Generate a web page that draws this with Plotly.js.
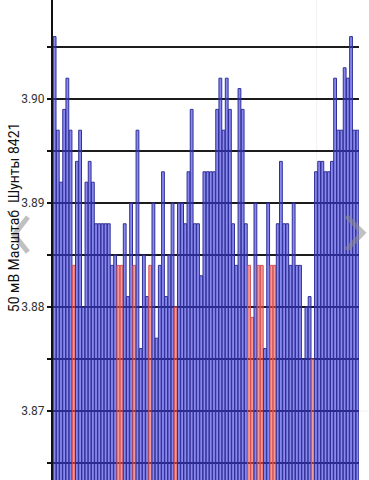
<!DOCTYPE html>
<html>
<head>
<meta charset="utf-8">
<script src="https://cdn.plot.ly/plotly-3.0.1.min.js"></script>
<style>
  html, body { margin: 0; padding: 0; width: 369px; height: 480px; overflow: hidden; background: #fff; }
  #chart { position: absolute; left: 0; top: -20px; width: 369px; height: 520px; }
</style>
</head>
<body>
<div id="chart"></div>
<script>
// Shunt voltage readings, 50 mV scale, shunts 8421
const readings = [
  3.906, 3.897, 3.892, 3.899, 3.902, 3.897, 3.884, 3.894, 3.897, 3.880,
  3.892, 3.894, 3.892, 3.888, 3.888, 3.888, 3.888, 3.888, 3.884, 3.885,
  3.884, 3.884, 3.888, 3.881, 3.890, 3.884, 3.897, 3.876, 3.885, 3.881,
  3.884, 3.890, 3.877, 3.884, 3.893, 3.881, 3.885, 3.890, 3.880, 3.890,
  3.890, 3.888, 3.893, 3.899, 3.888, 3.888, 3.883, 3.893, 3.893, 3.893,
  3.893, 3.899, 3.902, 3.897, 3.902, 3.899, 3.888, 3.884, 3.901, 3.899,
  3.888, 3.884, 3.879, 3.890, 3.884, 3.884, 3.876, 3.890, 3.884, 3.884,
  3.888, 3.894, 3.888, 3.888, 3.884, 3.890, 3.884, 3.884, 3.875, 3.880,
  3.881, 3.875, 3.893, 3.894, 3.894, 3.893, 3.893, 3.894, 3.902, 3.897,
  3.897, 3.903, 3.902, 3.906, 3.897, 3.897
];
// bar numbers (1-based) drawn in red
const flaggedBars = [7, 21, 22, 26, 31, 39, 62, 63, 65, 66, 69, 70, 82];
// y-axis ticks
const tickValues = [3.865, 3.87, 3.875, 3.88, 3.885, 3.89, 3.895, 3.90, 3.905, 3.91];
const tickLabels = ['', '3.87', '', '3.88', '', '3.89', '', '3.90', '', '3.91'];
const axisTitle = '50 мВ Масштаб  Шунты 8421';

const barNo = readings.map((_, i) => i + 1);
const isFlagged = barNo.map(n => flaggedBars.includes(n));
const fillColors = isFlagged.map(f => f ? 'rgba(232,70,70,0.55)' : 'rgba(50,50,228,0.58)');
const lineColors = isFlagged.map(f => f ? 'rgba(214,80,80,1)' : 'rgba(48,48,150,1)');

const trace = {
  type: 'bar',
  x: barNo,
  y: readings,
  marker: { color: fillColors, line: { color: lineColors, width: 1 } },
  hoverinfo: 'x+y'
};

const chevron = 'rgba(140,140,140,0.55)';
const layout = {
  width: 369, height: 520,
  margin: { l: 53, r: 10, t: 10, b: 0, pad: 0 },
  paper_bgcolor: '#ffffff',
  plot_bgcolor: '#ffffff',
  showlegend: false,
  bargap: 0.12,
  font: { family: 'Roboto, Arial, sans-serif', size: 12, color: '#333' },
  xaxis: { visible: false, range: [0.5, readings.length + 0.5], fixedrange: true },
  yaxis: {
    range: [3.86144, 3.91048],
    tickmode: 'array', tickvals: tickValues, ticktext: tickLabels,
    ticks: 'outside', ticklen: 4, tickwidth: 2, tickcolor: '#111',
    showgrid: true, gridcolor: '#1c1c1c', gridwidth: 1.2,
    showline: true, linecolor: '#111', linewidth: 2,
    zeroline: false,
    tickfont: { family: 'Roboto, Arial, sans-serif', size: 12, color: '#333' }
  },
  annotations: [{
    text: axisTitle, textangle: -90, showarrow: false,
    xref: 'paper', yref: 'paper', x: -0.125, y: 0.554,
    xanchor: 'center', yanchor: 'middle',
    font: { family: 'Roboto, Arial, sans-serif', size: 14, color: '#111' }
  }],
  shapes: [
    { type: 'rect', xref: 'paper', yref: 'paper', x0: 0.8617, x1: 1.05, y0: 0.1745, y1: 1.0, line: { color: 'rgba(0,0,0,0.06)', width: 1 }, layer: 'above' },
    { type: 'path', xref: 'paper', yref: 'paper', path: 'M -0.082 0.555 L -0.127 0.520 L -0.082 0.486', line: { color: chevron, width: 5 }, layer: 'above' },
    { type: 'path', xref: 'paper', yref: 'paper', path: 'M 0.958 0.557 L 1.013 0.524 L 0.958 0.490', line: { color: chevron, width: 5 }, layer: 'above' }
  ]
};

Plotly.newPlot('chart', [trace], layout, { displayModeBar: false, staticPlot: true });
</script>
</body>
</html>
